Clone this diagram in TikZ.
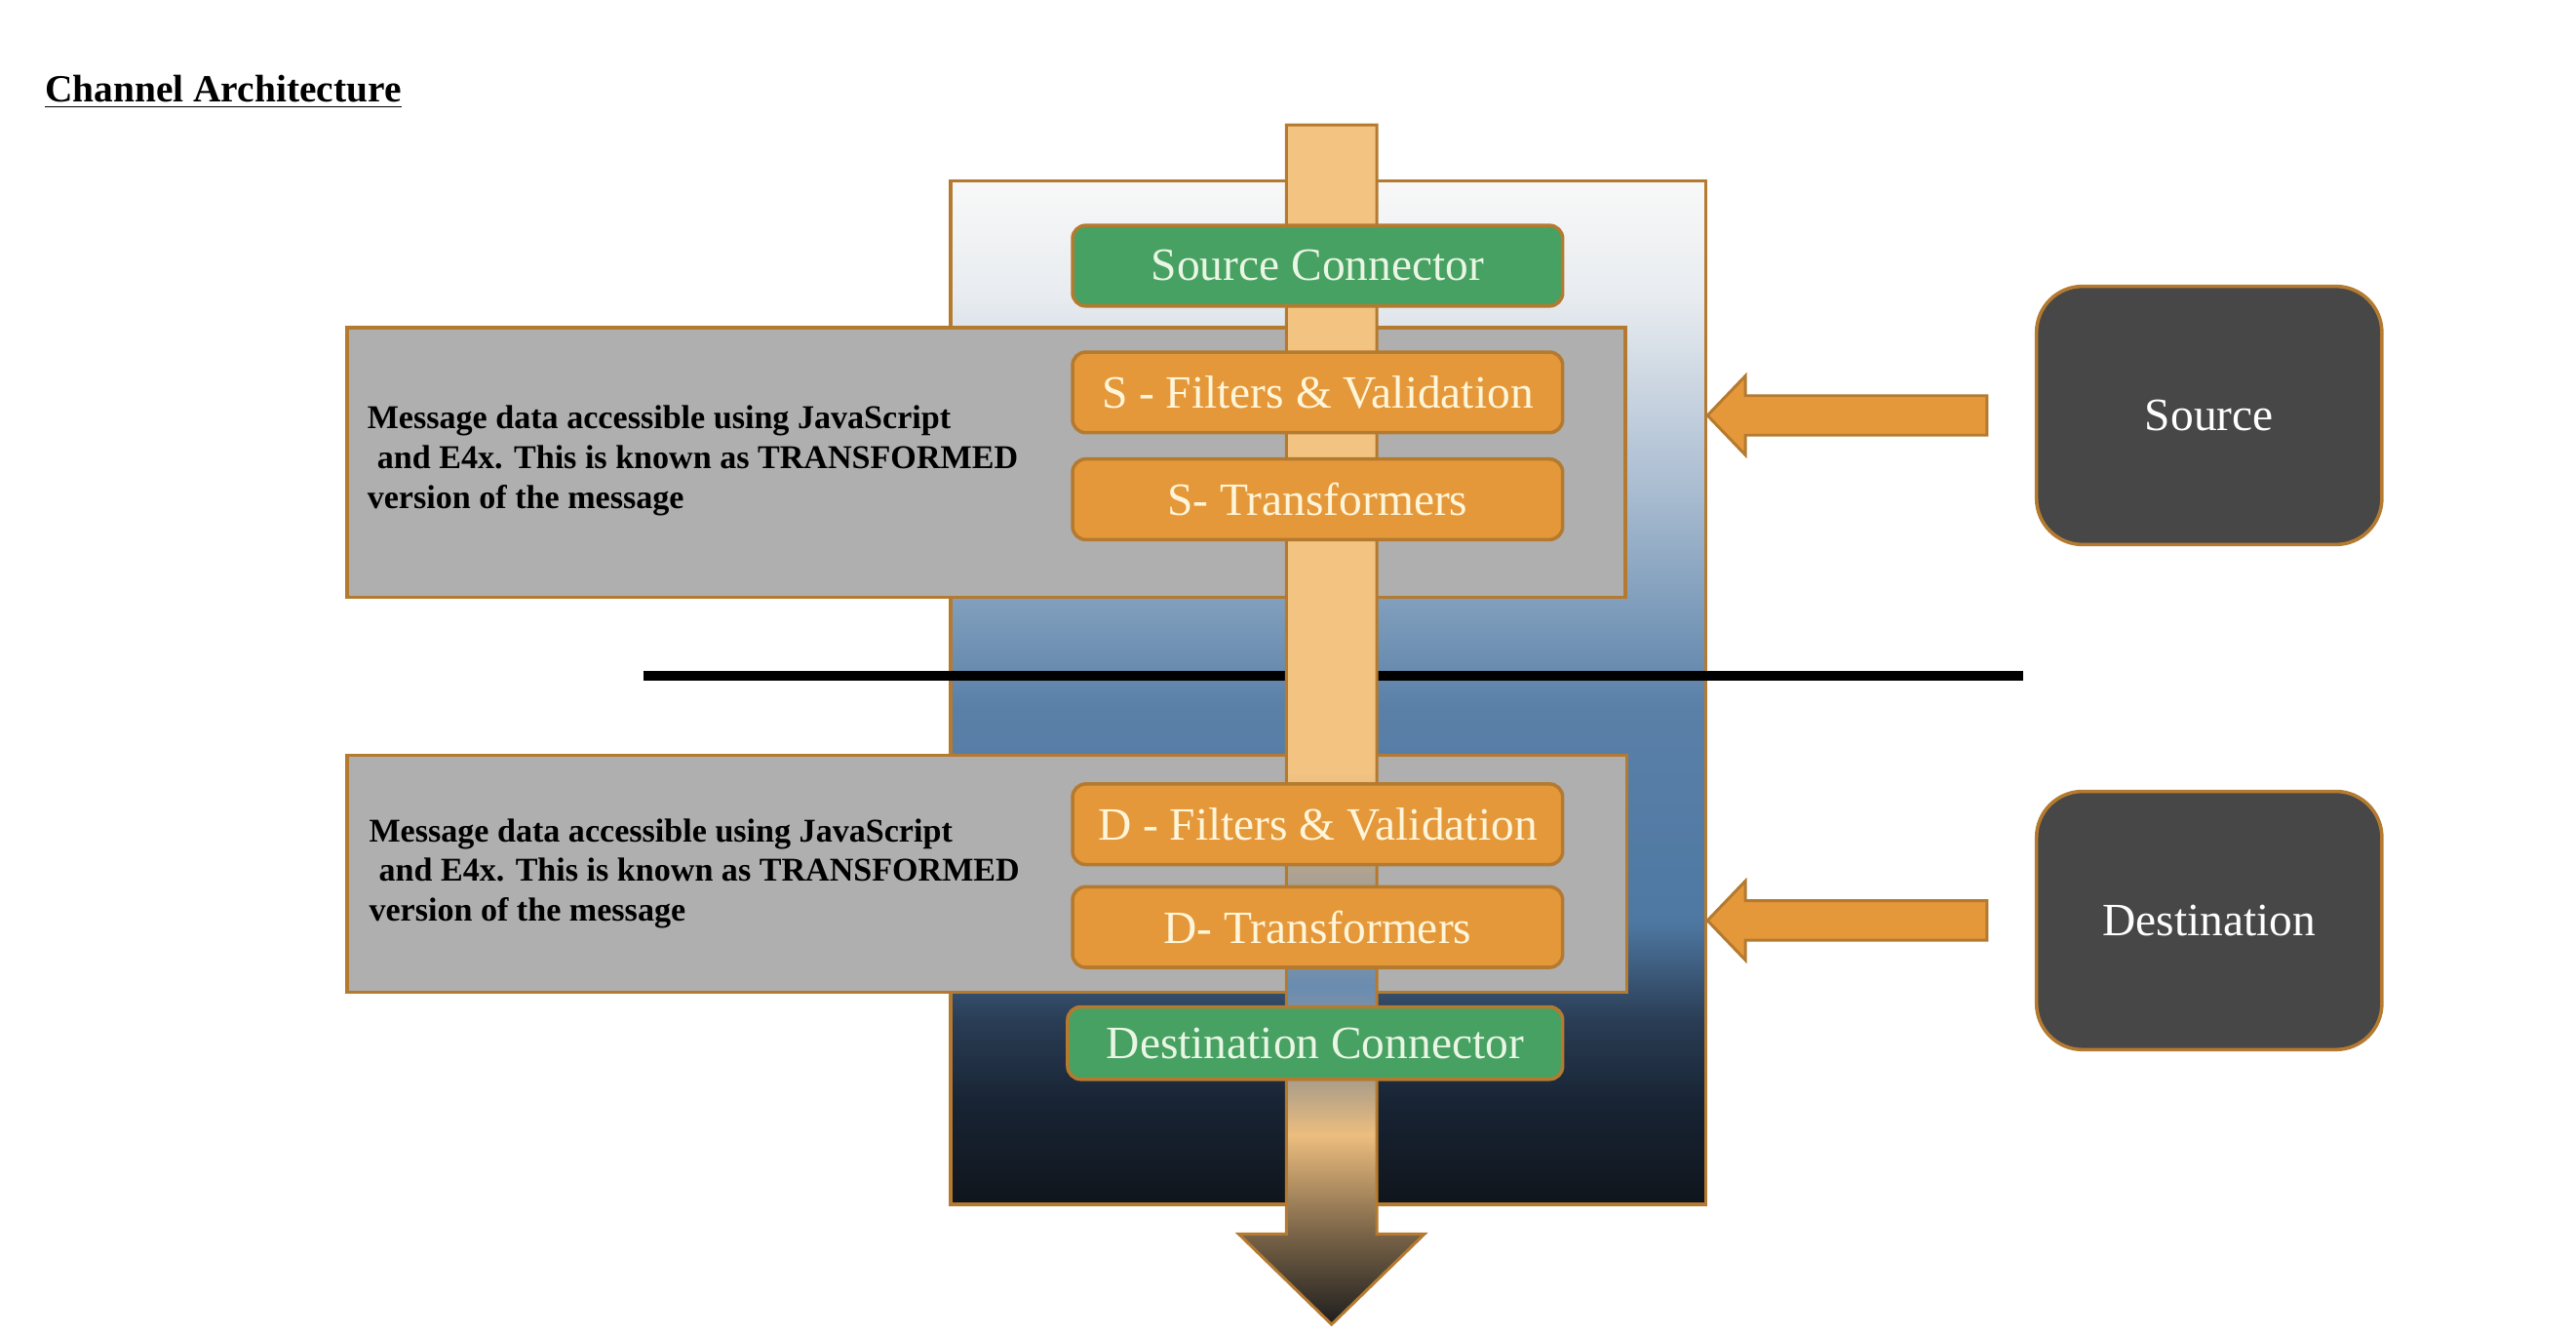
\documentclass[tikz,border=0pt]{standalone}
\usepackage{fontspec}
\setmainfont{Liberation Serif}
\usetikzlibrary{calc}

\definecolor{edgebrown}{HTML}{B47A30}
\definecolor{stageorange}{HTML}{E5983A}
\definecolor{stagetext}{HTML}{FFF6DA}
\definecolor{conngreen}{HTML}{47A162}
\definecolor{conntext}{HTML}{EAF6E4}
\definecolor{boxgrey}{HTML}{AFAFAF}
\definecolor{enddark}{HTML}{474747}
\definecolor{chanK}{HTML}{10151C}
\definecolor{chanN}{HTML}{182434}
\definecolor{chanM}{HTML}{2A3D55}
\definecolor{chanB}{HTML}{4E78A2}
\definecolor{chanC}{HTML}{5A80A8}
\definecolor{chanD}{HTML}{7898B8}
\definecolor{chanE}{HTML}{A8BBD0}
\definecolor{chanF}{HTML}{E8ECF0}
\definecolor{chanW}{HTML}{F8F8F8}
\definecolor{shaftL}{HTML}{F2C381}
\definecolor{shaftT}{HTML}{B4A48E}
\definecolor{shaftB}{HTML}{6A8CB0}
\definecolor{shaftG}{HTML}{B0A088}
\definecolor{shaftS}{HTML}{ECBD7E}
\definecolor{shaftD}{HTML}{7A6448}
\definecolor{shaftK}{HTML}{1E1E1E}

\pgfdeclareverticalshading{chanshade}{100bp}{color(0bp)=(chanK); color(25bp)=(chanK);
  color(30bp)=(chanN); color(34bp)=(chanM); color(38.8bp)=(chanB); color(49.3bp)=(chanC);
  color(53.3bp)=(chanD); color(59.7bp)=(chanE); color(69.4bp)=(chanF); color(75bp)=(chanW);
  color(100bp)=(chanW)}
\pgfdeclareverticalshading{shaftshade}{100bp}{color(0bp)=(shaftK); color(25bp)=(shaftK);
  color(28.8bp)=(shaftD); color(32.9bp)=(shaftS); color(35bp)=(shaftG); color(39.1bp)=(shaftB);
  color(44.2bp)=(shaftT); color(48bp)=(shaftL); color(75bp)=(shaftL); color(100bp)=(shaftL)}

\begin{document}
\begin{tikzpicture}[x=0.02cm,y=-0.02cm,
    stage/.style={draw=edgebrown,line width=1.2pt,rounded corners=0.16cm,fill=stageorange,
      text=stagetext,minimum width=5.96cm,minimum height=0.98cm,inner sep=0pt,
      font=\fontsize{16}{19}\selectfont},
    conn/.style={stage,fill=conngreen,text=conntext},
    endpoint/.style={draw=edgebrown,line width=1.2pt,rounded corners=0.56cm,fill=enddark,
      text=white,minimum width=4.2cm,minimum height=3.14cm,font=\fontsize{16}{19}\selectfont},
    greybox/.style={draw=edgebrown,line width=1.2pt,fill=boxgrey,inner sep=0pt},
    note/.style={anchor=west,align=left,inner sep=0pt,font=\fontsize{11.5}{13.7}\selectfont\bfseries},
    sidearrow/.style={draw=edgebrown,line width=1pt,fill=stageorange}]
  \useasboundingbox (0,0) rectangle (1566,812);

  \node[anchor=west,inner sep=0pt,font=\fontsize{13.3}{16}\selectfont\bfseries] (title) at (27,56)
    {\underline{Channel Architecture}};

  % channel body
  \node[shade,shading=chanshade,draw=edgebrown,line width=1.2pt,inner sep=0pt,
    minimum width=9.18cm,minimum height=12.44cm] (chan) at (807.5,421) {};

  \node[greybox,minimum width=15.54cm,minimum height=3.28cm] (srcgrey) at (599.5,281) {};
  \node[greybox,minimum width=15.56cm,minimum height=2.88cm] (dstgrey) at (600,531) {};

  \coordinate (sepL) at (391,411);
  \coordinate (sepR) at (1230,411);
  \draw[line width=3.4pt] (sepL) -- (sepR);

  % message flow
  \path[shade,shading=shaftshade,draw=edgebrown,line width=1pt]
    (782,76) -- (837,76) -- (837,750) -- (866,750) -- (809.5,805) -- (753,750) -- (782,750) -- cycle;

  \node[conn] (srcconn) at (801,161.5) {Source Connector};
  \node[stage] (sfilter) at (801,238.5) {S - Filters \& Validation};
  \node[stage] (strans) at (801,303.5) {S- Transformers};
  \node[stage] (dfilter) at (801,501) {D - Filters \& Validation};
  \node[stage] (dtrans) at (801,563.5) {D- Transformers};
  \node[conn,minimum width=6.02cm,minimum height=0.88cm] (dstconn) at (799.5,634) {Destination Connector};

  \node[note] (srcnote) at (223,280) {Message data accessible using JavaScript\\
    \hspace*{3.4pt}and E4x. This is known as TRANSFORMED\\ version of the message};
  \node[note] (dstnote) at (224,531) {Message data accessible using JavaScript\\
    \hspace*{3.4pt}and E4x. This is known as TRANSFORMED\\ version of the message};

  \node[endpoint] (src) at (1343,252.5) {Source};
  \node[endpoint] (dst) at (1343,559.5) {Destination};

  \draw[sidearrow] (chan.east |- src.west) -- ++(23,-24) -- ++(0,12) -- ($(src.west)+(-29,-12)$)
    -- ++(0,24) -- ($(chan.east |- src.west)+(23,12)$) -- ++(0,12) -- cycle;
  \draw[sidearrow] (chan.east |- dst.west) -- ++(23,-24) -- ++(0,12) -- ($(dst.west)+(-29,-12)$)
    -- ++(0,24) -- ($(chan.east |- dst.west)+(23,12)$) -- ++(0,12) -- cycle;
\end{tikzpicture}
\end{document}
